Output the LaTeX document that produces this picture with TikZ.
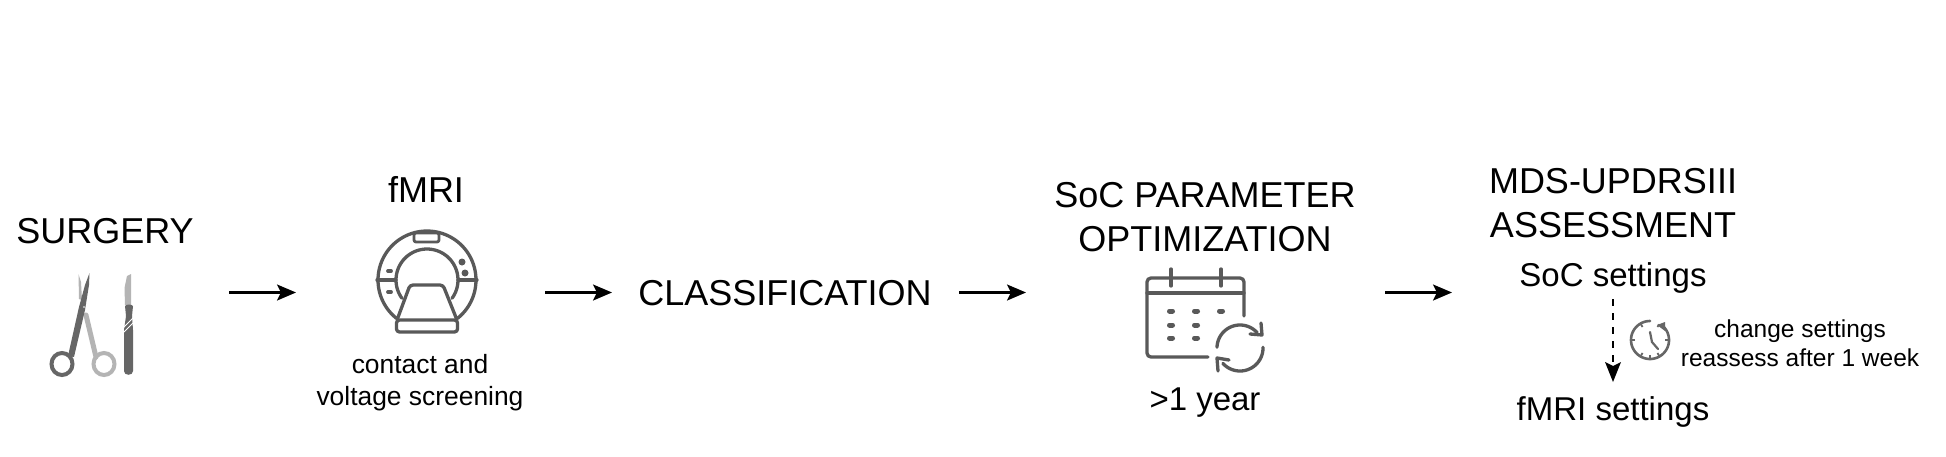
\documentclass[tikz,border=0pt]{standalone}
\usepackage{fontspec}
\setmainfont{Liberation Sans}
\usetikzlibrary{arrows.meta}
\definecolor{icon}{HTML}{595959}
\definecolor{lightg}{HTML}{B4B4B4}
\definecolor{darkg}{HTML}{666666}
\tikzset{
  big/.style={anchor=base,inner sep=0pt,font=\fontsize{36}{36}\selectfont,text=black},
  mid/.style={anchor=base,inner sep=0pt,font=\fontsize{33}{33}\selectfont,text=black},
  small/.style={anchor=base,inner sep=0pt,font=\fontsize{26.4}{26.4}\selectfont,text=black},
  note/.style={anchor=base,inner sep=0pt,font=\fontsize{24.5}{24.5}\selectfont,text=black},
  flow/.style={draw=black,line width=2.4pt,-{Stealth[length=19pt,width=16pt,inset=4pt]}},
  iconline/.style={draw=icon,line width=3.3pt,line cap=round,line join=round},
}
\begin{document}
\begin{tikzpicture}[x=1pt,y=-1pt]
\useasboundingbox (0,0) rectangle (1946,456);
\fill[white] (0,0) rectangle (1946,456);
% Column titles
\node[big] (surgery) at (105,243) {SURGERY};
\node[big] (fmri) at (426,202) {fMRI};
\node[small] (contact) at (420,373) {contact and};
\node[small] (voltage) at (420,405) {voltage screening};
\node[big] (classif) at (785,305) {CLASSIFICATION};
\node[big] (socp) at (1205,207) {SoC PARAMETER};
\node[big] (optim) at (1205,251) {OPTIMIZATION};
\node[mid] (year) at (1205,410) {>1 year};
\node[big] (mds) at (1613,193) {MDS-UPDRSIII};
\node[big] (assess) at (1613,237) {ASSESSMENT};
\node[mid] (socs) at (1613,286) {SoC settings};
\node[mid] (fmris) at (1613,420) {fMRI settings};
\node[note] (change) at (1800,337) {change settings};
\node[note] (reassess) at (1800,366) {reassess after 1 week};
% Flow arrows
\coordinate (a1s) at (229,292.5); \coordinate (a1e) at (296,292.5);
\coordinate (a2s) at (545,292.5); \coordinate (a2e) at (612,292.5);
\coordinate (a3s) at (959,292.5); \coordinate (a3e) at (1026,292.5);
\coordinate (a4s) at (1385,292.5); \coordinate (a4e) at (1452,292.5);
\draw[flow] (a1s) -- (a1e);
\draw[flow] (a2s) -- (a2e);
\draw[flow] (a3s) -- (a3e);
\draw[flow] (a4s) -- (a4e);
\coordinate (ds) at (1613,299); \coordinate (de) at (1613,382);
\draw[draw=black,line width=2.8pt,dash pattern=on 7pt off 7pt] (ds) -- (1613,366);
\fill[black] (1605,362) -- (1613,366) -- (1621,362) -- (de) -- cycle;
% Scissors
\draw[lightg,line width=5pt,line cap=round] (86,315) -- (96,357);
\draw[lightg,line width=4pt] (104,364) ellipse (10.5 and 11);
\fill[lightg] (78.5,274) -- (81,282) -- (82,300) -- (79,299) -- cycle;
\fill[darkg] (89.5,273) -- (89,285) -- (85,310) -- (74,357) -- (68,356) -- (79,307) -- (85,285) -- cycle;
\draw[darkg,line width=4pt] (62,364) ellipse (10.5 and 11);
\fill[white] (84,307) circle (0.8);
% Scalpel
\fill[lightg] (131,274) -- (131,305) -- (125,305) -- (124.5,288) -- (127,276) -- cycle;
\fill[darkg] (125,306) .. controls (127,304) and (131,304) .. (133,306) -- (132,316) -- (133,330)
  -- (133,371) .. controls (133,376) and (124,376) .. (124,371) -- (124,330) -- (126,316) -- cycle;
\draw[white,line width=0.9pt] (124,327) -- (133,318);
\draw[white,line width=0.9pt] (124,332) -- (133,323);
% MRI
\draw[iconline] plot[smooth,domain=-51:231,samples=70] ({427+49*cos(\x)},{280-49*sin(\x)});
\draw[iconline] plot[smooth,domain=-36:216,samples=60] ({427+31*cos(\x)},{280-31*sin(\x)});
\draw[iconline] (377,280) -- (396,280);
\draw[iconline] (458,280) -- (477,280);
\draw[iconline,rounded corners=2pt,line width=2.8pt] (414,233) rectangle (439,242);
\draw[iconline,line width=3.8pt] (388,271) -- (391,271);
\draw[iconline,line width=3.8pt] (388,292) -- (391,292);
\fill[icon] (462,262) circle (3.5);
\fill[icon] (465,273) circle (3.5);
\fill[white,rounded corners=3pt] (397,320) -- (410,285) -- (443,285) -- (457,320) -- cycle;
\draw[iconline,rounded corners=3pt] (397,320) -- (410,285) -- (443,285) -- (457,320);
\draw[iconline,rounded corners=3pt] (396.5,320) rectangle (457.5,332);
% Calendar
\draw[iconline,rounded corners=4pt] (1208,357) -- (1147,357) -- (1147,278) -- (1244,278) -- (1244,316);
\draw[iconline] (1147,293) -- (1244,293);
\draw[iconline] (1171,269) -- (1171,286);
\draw[iconline] (1221,269) -- (1221,286);
\foreach \cx/\cy in {1171/311,1196/311,1221/311,1171/325,1196/325,1171/338,1196/338}{
  \draw[icon,line width=5pt,line cap=round] (\cx-1.5,\cy) -- (\cx+1.5,\cy);
}
% Refresh
\draw[iconline] plot[smooth,domain=178:42,samples=40] ({1240+23*cos(\x)},{348-23*sin(\x)});
\draw[iconline] plot[smooth,domain=2:-138,samples=40] ({1240+23*cos(\x)},{348-23*sin(\x)});
\draw[iconline] (1261,323) -- (1262,335) -- (1250,334);
\draw[iconline] (1218,371) -- (1217,358) -- (1229,360);
% Clock
\draw[darkg,line width=2.6pt,line cap=round] plot[smooth,domain=45:-270,samples=60] ({1650+19*cos(\x)},{340-19*sin(\x)});
\fill[darkg] (1665,322) -- (1665,331) -- (1657,325) -- cycle;
\draw[darkg,line width=2.2pt,line cap=round] (1650,332) -- (1652,342) -- (1658,349);
\foreach \a in {0,60,120,180,240,270,300}{
  \draw[darkg,line width=1.8pt] ({1650+15*cos(\a)},{340-15*sin(\a)}) -- ({1650+18*cos(\a)},{340-18*sin(\a)});
}
\end{tikzpicture}
\end{document}
